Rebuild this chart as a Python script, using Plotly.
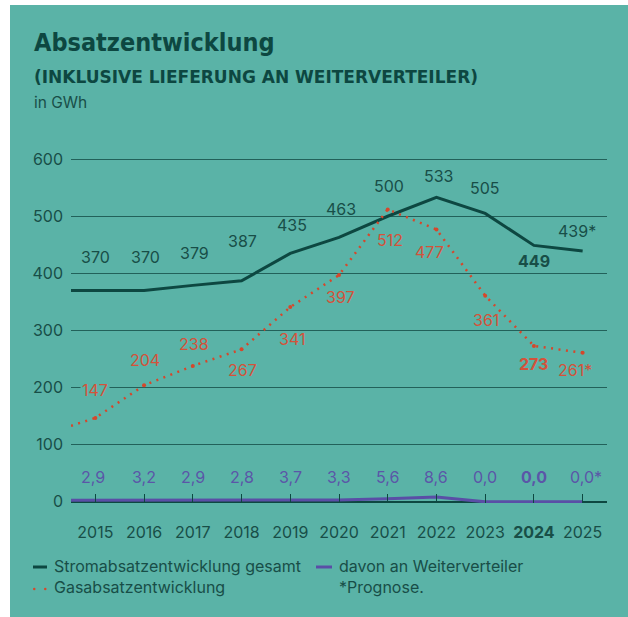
import plotly.graph_objects as go

# ---------------- data ----------------
years = [2015, 2016, 2017, 2018, 2019, 2020, 2021, 2022, 2023, 2024, 2025]
year_labels = ["2015", "2016", "2017", "2018", "2019", "2020", "2021", "2022", "2023", "<b>2024</b>", "2025"]

strom = [370, 370, 379, 387, 435, 463, 500, 533, 505, 449, 439]
strom_labels = ["370", "370", "379", "387", "435", "463", "500", "533", "505", "<b>449</b>", "439*"]

gas = [147, 204, 238, 267, 341, 397, 512, 477, 361, 273, 261]
gas_labels = ["147", "204", "238", "267", "341", "397", "512", "477", "361", "<b>273</b>", "261*"]

weiter = [2.9, 3.2, 2.9, 2.8, 3.7, 3.3, 5.6, 8.6, 0.0, 0.0, 0.0]
weiter_labels = ["2,9", "3,2", "2,9", "2,8", "3,7", "3,3", "5,6", "8,6", "0,0", "<b>0,0</b>", "0,0*"]

# lines run in from the left edge of the plot area
edge_year = 2014.5
strom_edge = 370
gas_edge = 133
weiter_edge = 2.9

y_ticks = [0, 100, 200, 300, 400, 500, 600]

# ---------------- style ----------------
W, H = 628, 617
ML, MR, MT, MB = 71, 21, 142, 114
PW, PH = W - ML - MR, H - MT - MB

TEAL = "#5AB3A7"
DARK = "#0D4741"
TXT = "#184E47"
GRID = "#22615A"
RED = "#D6472B"
RED_T = "#D4523A"
PURP = "#5A4EA6"
PURP_T = "#5B56A8"
FONT = "Inter, Roboto, sans-serif"
LBL = 16

strom_dy = [33.5, 33.5, 32, 40, 28, 28, 30, 21, 25, -16, 20]
strom_dx = [0, 1, 2, 1, 2, 2, 1, 3, 0, 0, -6]
gas_dy = [28, 25, 21.6, -20.6, -32, -21.7, -30.7, -23, -24.4, -18.4, -17.2]
gas_dx = [0, 1, 1, 1, 2, 1, 2, -7, 1, 0, -8]
weiter_dy = 25
weiter_dx = [-2, 0, 0, 0, 0, 0, 0, 0, 0, 0, 3]


def px(x):
    return (x - ML) / PW


def py(y):
    return (H - MB - y) / PH


fig = go.Figure()

fig.add_trace(go.Scatter(
    x=[edge_year] + years, y=[weiter_edge] + weiter, mode="lines",
    line=dict(color=PURP, width=3), hoverinfo="skip", showlegend=False))

fig.add_trace(go.Scatter(
    x=[edge_year] + years, y=[strom_edge] + strom, mode="lines",
    line=dict(color=DARK, width=3), hoverinfo="skip", showlegend=False))

fig.add_trace(go.Scatter(
    x=[edge_year] + years, y=[gas_edge] + gas, mode="lines",
    line=dict(color=RED, width=2.5, dash="2px,5.5px"), hoverinfo="skip", showlegend=False))
fig.add_trace(go.Scatter(
    x=years, y=gas, mode="markers",
    marker=dict(color=RED, size=4), hoverinfo="skip", showlegend=False))

ann = []
for i, yr in enumerate(years):
    ann.append(dict(x=yr, y=strom[i], xref="x", yref="y", text=strom_labels[i], showarrow=False,
                    yshift=strom_dy[i], xshift=strom_dx[i], font=dict(family=FONT, size=LBL, color=TXT)))
    ann.append(dict(x=yr, y=gas[i], xref="x", yref="y", text=gas_labels[i], showarrow=False,
                    yshift=gas_dy[i], xshift=gas_dx[i], font=dict(family=FONT, size=LBL, color=RED_T),
                    bgcolor=TEAL if i == 0 else None))
    ann.append(dict(x=yr, y=0, xref="x", yref="y", text=weiter_labels[i], showarrow=False,
                    yshift=weiter_dy, xshift=weiter_dx[i], font=dict(family=FONT, size=LBL, color=PURP_T)))

# titles
ann.append(dict(x=px(32), y=py(43), xref="paper", yref="paper", xanchor="left", yanchor="middle",
                text="<b>Absatzentwicklung</b>", showarrow=False,
                font=dict(family="DejaVu Sans Condensed, sans-serif", size=25, color=DARK)))
ann.append(dict(x=px(32), y=py(77), xref="paper", yref="paper", xanchor="left", yanchor="middle",
                text="<b>(INKLUSIVE LIEFERUNG AN WEITERVERTEILER)</b>", showarrow=False,
                font=dict(family="DejaVu Sans, sans-serif", size=17, color=DARK)))
ann.append(dict(x=px(32), y=py(102.5), xref="paper", yref="paper", xanchor="left", yanchor="middle",
                text="in GWh", showarrow=False, font=dict(family=FONT, size=15.5, color=TXT)))

# legend
leg = [("Stromabsatzentwicklung gesamt", 52, 566), ("Gasabsatzentwicklung", 52, 587),
       ("davon an Weiterverteiler", 337, 566), ("*Prognose.", 337, 587)]
for t, x, y in leg:
    ann.append(dict(x=px(x), y=py(y), xref="paper", yref="paper", xanchor="left", yanchor="middle",
                    text=t, showarrow=False, font=dict(family=FONT, size=16, color=TXT)))

shapes = [
    dict(type="rect", xref="paper", yref="paper", x0=px(0), x1=px(10), y0=py(H), y1=py(0),
         fillcolor="white", line=dict(width=0), layer="above"),
    dict(type="rect", xref="paper", yref="paper", x0=px(0), x1=px(W), y0=py(5), y1=py(0),
         fillcolor="white", line=dict(width=0), layer="above"),
    dict(type="line", xref="paper", yref="paper", x0=px(33), x1=px(47), y0=py(567), y1=py(567),
         line=dict(color=DARK, width=3)),
    dict(type="line", xref="paper", yref="paper", x0=px(316), x1=px(332), y0=py(567), y1=py(567),
         line=dict(color=PURP, width=3)),
    dict(type="circle", xref="paper", yref="paper", x0=px(33), x1=px(35.5), y0=py(590.2), y1=py(587.7),
         fillcolor=RED, line=dict(width=0)),
    dict(type="circle", xref="paper", yref="paper", x0=px(44), x1=px(46.5), y0=py(590.2), y1=py(587.7),
         fillcolor=RED, line=dict(width=0)),
]

fig.update_layout(
    width=W, height=H, margin=dict(l=ML, r=MR, t=MT, b=MB, pad=0),
    paper_bgcolor=TEAL, plot_bgcolor=TEAL, showlegend=False,
    annotations=ann, shapes=shapes,
    xaxis=dict(range=[2014.5, 2025.5], tickvals=years, ticktext=year_labels,
               ticks="inside", ticklen=9, tickwidth=1.3, tickcolor=DARK,
               showgrid=False, zeroline=False, showline=False,
               ticklabelstandoff=18, tickfont=dict(family=FONT, size=16, color=TXT)),
    yaxis=dict(range=[-2, 630], tickvals=y_ticks, showgrid=True, gridcolor=GRID, gridwidth=1.2,
               zeroline=True, zerolinecolor=DARK, zerolinewidth=1.6,
               ticks="", ticklabelstandoff=7, showline=False,
               tickfont=dict(family=FONT, size=16, color=TXT)),
)

fig.write_html("out.html", config={"displayModeBar": False},
               post_script="document.body.style.margin='0';document.body.style.overflow='hidden';")
